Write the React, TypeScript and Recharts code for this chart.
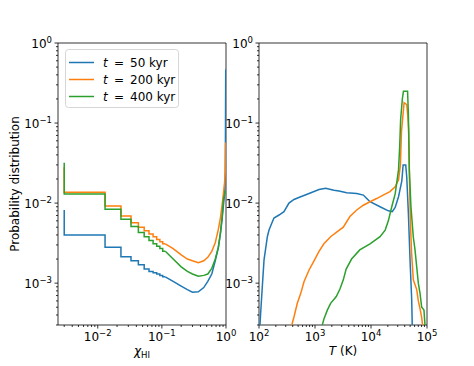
import { LineChart, Line, XAxis, YAxis, ReferenceArea } from 'recharts'

const BLUE = '#1f77b4'
const ORANGE = '#ff7f0e'
const GREEN = '#2ca02c'
const FONT = 'DejaVu Sans'

const SERIES_LABELS = ['50 kyr', '200 kyr', '400 kyr']

// left panel: chi_HI histogram, bins of width 0.01 (coarse steps at small chi)
const CHI_EDGES = [0.003, 0.013, 0.023, 0.033, 0.043, 0.053, 0.063, 0.073, 0.083, 0.093, 0.103, 0.113]
const CHI_TOP = [0.0082, 0.028, 0.032] // value of the edge bin at chi ~ 0.003
const BLUE_CHI_BINS = [0.004, 0.0028, 0.00213, 0.0019, 0.0017, 0.0015, 0.0014, 0.00135, 0.0013, 0.00125, 0.0012]
const ORANGE_CHI_BINS = [0.0137, 0.0092, 0.0069, 0.0057, 0.005, 0.0045, 0.0041, 0.0038, 0.0035, 0.0033, 0.0031]
const GREEN_CHI_BINS = [0.013, 0.0084, 0.0063, 0.0051, 0.0043, 0.0038, 0.0034, 0.0031, 0.0029, 0.0027, 0.0025]

// dense part of the histogram (steps smaller than a pixel)
const CHI_FINE = [0.113, 0.15, 0.2, 0.25, 0.3, 0.37, 0.45, 0.52, 0.6, 0.68, 0.76, 0.82, 0.87, 0.91, 0.95, 0.975, 0.99, 1.0]
const BLUE_CHI_FINE = [0.0012, 0.00105, 0.00092, 0.00083, 0.00077, 0.00078, 0.00088, 0.00105, 0.0013, 0.0019, 0.0028, 0.0042, 0.0063, 0.0092, 0.013, 0.022, 0.46, 0.46]
const ORANGE_CHI_FINE = [0.0031, 0.0027, 0.00225, 0.002, 0.0019, 0.0018, 0.0019, 0.0021, 0.0025, 0.0032, 0.0047, 0.0066, 0.0095, 0.013, 0.018, 0.025, 0.056, 0.056]
const GREEN_CHI_FINE = [0.0025, 0.002, 0.0016, 0.0014, 0.0013, 0.00122, 0.00125, 0.0013, 0.00153, 0.002, 0.0028, 0.0043, 0.0068, 0.011, 0.013, 0.014, 0.014, 0.014]

// right panel: temperature histogram
const T_BLUE = [104, 107, 115, 123, 132, 141, 151, 169, 185, 228, 279, 343, 422, 555, 782, 1180, 1550, 2180, 2680, 3680, 5560, 7300, 8400, 9600, 14500, 20400, 24000, 27000, 31000, 35500, 37500, 41700, 43500, 46500, 50000, 53300, 54500]
const BLUE_T = [3e-4, 0.00042, 0.00094, 0.00195, 0.00275, 0.0038, 0.0046, 0.0056, 0.0065, 0.0071, 0.0078, 0.01, 0.0111, 0.012, 0.0132, 0.0148, 0.0153, 0.0145, 0.0142, 0.0135, 0.0132, 0.0126, 0.0114, 0.0104, 0.009, 0.008, 0.0078, 0.0088, 0.012, 0.019, 0.03, 0.03, 0.021, 0.0075, 0.0018, 0.00063, 3e-4]
const T_ORANGE = [385, 422, 483, 555, 636, 780, 960, 1180, 1440, 1900, 2500, 3200, 4200, 5560, 7300, 9600, 12600, 16500, 21800, 27000, 31000, 33500, 35000, 37000, 39000, 43500, 45500, 47000, 48500, 50500, 53000, 57000, 65500, 70000, 76000, 80400, 83400]
const ORANGE_T = [3e-4, 0.00038, 0.00056, 0.00074, 0.00104, 0.00145, 0.0019, 0.0025, 0.0031, 0.0038, 0.0044, 0.005, 0.0068, 0.0082, 0.0094, 0.0104, 0.0114, 0.0126, 0.0139, 0.016, 0.0194, 0.03, 0.078, 0.12, 0.18, 0.17, 0.12, 0.082, 0.021, 0.006, 0.0024, 0.0011, 0.00083, 0.0006, 0.00046, 0.00037, 3e-4]
const T_GREEN = [1350, 1450, 1660, 1900, 2400, 2800, 3200, 3600, 4500, 6300, 9600, 14500, 17900, 20400, 23500, 27000, 31000, 32500, 33800, 36300, 38000, 45000, 46500, 48400, 51700, 56900, 61100, 65500, 70000, 75000, 80400, 88300, 92000]
const GREEN_T = [3e-4, 0.00036, 0.00046, 0.00056, 0.00068, 0.00085, 0.0011, 0.0015, 0.002, 0.0026, 0.0031, 0.0038, 0.0046, 0.006, 0.009, 0.013, 0.026, 0.05, 0.11, 0.2, 0.25, 0.25, 0.13, 0.026, 0.009, 0.0038, 0.0026, 0.0016, 0.001, 0.00075, 0.0005, 0.00046, 3e-4]

const Y_MAJOR = [1e-3, 1e-2, 1e-1, 1]
const CHI_MAJOR = [1e-2, 1e-1, 1]
const T_MAJOR = [1e2, 1e3, 1e4, 1e5]
const Y_DOMAIN = [3e-4, 1]
const CHI_DOMAIN = [0.0024, 1]
const T_DOMAIN = [100, 1e5]

// minor log ticks 2..9 within [lo, hi]
function withMinor(major: number[], lo: number, hi: number) {
  const out: number[] = []
  for (let e = Math.floor(Math.log10(lo)); e <= Math.ceil(Math.log10(hi)); e++) {
    for (let k = 1; k <= 9; k++) {
      const v = k * Math.pow(10, e)
      if (v >= lo * 0.999 && v <= hi * 1.001) out.push(v)
    }
  }
  return Array.from(new Set([...out, ...major])).sort((a, b) => a - b)
}

const steps = (edges: number[], top: number, vals: number[]) => [
  { x: edges[0], y: top },
  ...edges.map((e, i) => ({ x: e, y: vals[Math.min(i, vals.length - 1)] })),
]
const pts = (xs: number[], ys: number[]) => xs.map((x, i) => ({ x, y: ys[i] }))

const isMajor = (v: number) => Math.abs(Math.log10(v) - Math.round(Math.log10(v))) < 1e-6

function Pow({ v }: { v: number }) {
  const e = Math.round(Math.log10(v))
  return (
    <>
      10<tspan fontSize={8.5} dy={-5}>{e < 0 ? '\u2212' + -e : e}</tspan>
    </>
  )
}

function XTick({ x, y, payload }: any) {
  const major = isMajor(payload.value)
  return (
    <g>
      <line x1={x} x2={x} y1={y} y2={y + (major ? 3.5 : 2)} stroke="#000" strokeWidth={0.8} />
      {major && (
        <text x={x} y={y + 16} textAnchor="middle" fontSize={12} fontFamily={FONT} fill="#000">
          <Pow v={payload.value} />
        </text>
      )}
    </g>
  )
}

function YTick({ x, y, payload }: any) {
  const major = isMajor(payload.value)
  return (
    <g>
      <line x1={x} x2={x - (major ? 3.5 : 2)} y1={y} y2={y} stroke="#000" strokeWidth={0.8} />
      {major && (
        <text x={x - 6} y={y + 4.5} textAnchor="end" fontSize={12} fontFamily={FONT} fill="#000">
          <Pow v={payload.value} />
        </text>
      )}
    </g>
  )
}

const lineProps = { dot: false, activeDot: false, strokeWidth: 1.5, isAnimationActive: false } as const

export default function App() {
  const chiTicks = withMinor(CHI_MAJOR, CHI_DOMAIN[0], CHI_DOMAIN[1])
  const tTicks = withMinor(T_MAJOR, T_DOMAIN[0], T_DOMAIN[1])
  const yTicks = withMinor(Y_MAJOR, Y_DOMAIN[0], Y_DOMAIN[1])

  const yAxis = (
    <YAxis
      type="number" scale="log" domain={Y_DOMAIN} allowDataOverflow
      ticks={yTicks} interval={0} tick={<YTick />} tickLine={false} axisLine={false}
      tickSize={0} tickMargin={0} width={40}
    />
  )
  const colors = [BLUE, ORANGE, GREEN]

  return (
    <div style={{ position: 'absolute', left: 0, top: 0, width: 474, height: 366, background: '#fff', fontFamily: FONT }}>
      {/* left panel */}
      <div style={{ position: 'absolute', left: 0, top: 0 }}>
        <LineChart width={474} height={366} margin={{ top: 43, right: 248, bottom: 11, left: 18 }}>
          <XAxis
            dataKey="x" type="number" scale="log" domain={CHI_DOMAIN} allowDataOverflow
            ticks={chiTicks} interval={0} tick={<XTick />} tickLine={false} axisLine={false}
            tickSize={0} tickMargin={0} height={30}
          />
          {yAxis}
          <Line {...lineProps} data={steps(CHI_EDGES, CHI_TOP[0], BLUE_CHI_BINS)} dataKey="y" type="stepAfter" stroke={BLUE} />
          <Line {...lineProps} data={pts(CHI_FINE, BLUE_CHI_FINE)} dataKey="y" type="linear" stroke={BLUE} />
          <Line {...lineProps} data={steps(CHI_EDGES, CHI_TOP[1], ORANGE_CHI_BINS)} dataKey="y" type="stepAfter" stroke={ORANGE} />
          <Line {...lineProps} data={pts(CHI_FINE, ORANGE_CHI_FINE)} dataKey="y" type="linear" stroke={ORANGE} />
          <Line {...lineProps} data={steps(CHI_EDGES, CHI_TOP[2], GREEN_CHI_BINS)} dataKey="y" type="stepAfter" stroke={GREEN} />
          <Line {...lineProps} data={pts(CHI_FINE, GREEN_CHI_FINE)} dataKey="y" type="linear" stroke={GREEN} />
          <ReferenceArea x1={CHI_DOMAIN[0]} x2={CHI_DOMAIN[1]} y1={Y_DOMAIN[0]} y2={Y_DOMAIN[1]} fill="none" stroke="#000" strokeWidth={0.8} />
        </LineChart>
      </div>

      {/* right panel */}
      <div style={{ position: 'absolute', left: 0, top: 0 }}>
        <LineChart width={474} height={366} margin={{ top: 43, right: 47, bottom: 11, left: 219 }}>
          <XAxis
            dataKey="x" type="number" scale="log" domain={T_DOMAIN} allowDataOverflow
            ticks={tTicks} interval={0} tick={<XTick />} tickLine={false} axisLine={false}
            tickSize={0} tickMargin={0} height={30}
          />
          {yAxis}
          <Line {...lineProps} data={pts(T_BLUE, BLUE_T)} dataKey="y" type="linear" stroke={BLUE} />
          <Line {...lineProps} data={pts(T_ORANGE, ORANGE_T)} dataKey="y" type="linear" stroke={ORANGE} />
          <Line {...lineProps} data={pts(T_GREEN, GREEN_T)} dataKey="y" type="linear" stroke={GREEN} />
          <ReferenceArea x1={T_DOMAIN[0]} x2={T_DOMAIN[1]} y1={Y_DOMAIN[0]} y2={Y_DOMAIN[1]} fill="none" stroke="#000" strokeWidth={0.8} />
        </LineChart>
      </div>

      {/* labels and legend */}
      <svg width={474} height={366} style={{ position: 'absolute', left: 0, top: 0, pointerEvents: 'none' }} fontFamily={FONT}>
        <text transform="translate(19,184) rotate(-90)" textAnchor="middle" fontSize={12} fill="#000">
          Probability distribution
        </text>
        <text x={142} y={355} textAnchor="middle" fontSize={12} fill="#000">
          <tspan fontStyle="italic">χ</tspan>
          <tspan fontSize={8.5} dy={3}>HI</tspan>
        </text>
        <text x={343} y={355} textAnchor="middle" fontSize={12} fill="#000">
          <tspan fontStyle="italic">T</tspan> (K)
        </text>

        <rect x={65.5} y={49.5} width={113} height={58} rx={3} fill="#fff" fillOpacity={0.8} stroke="#ccc" strokeWidth={0.8} />
        {SERIES_LABELS.map((s, i) => (
          <g key={s}>
            <line x1={69} x2={94} y1={62.5 + i * 17} y2={62.5 + i * 17} stroke={colors[i]} strokeWidth={1.5} />
            <text y={67 + i * 17} fontSize={12} fill="#000">
              <tspan x={103} fontStyle="italic">t</tspan>
              <tspan x={114}>=</tspan>
              <tspan x={130}>{s}</tspan>
            </text>
          </g>
        ))}
      </svg>
    </div>
  )
}
